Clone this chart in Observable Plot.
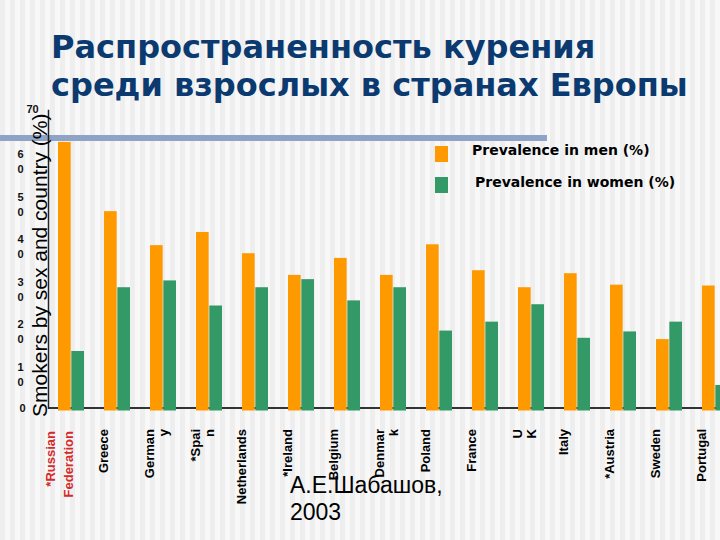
<!DOCTYPE html>
<html>
<head>
<meta charset="utf-8">
<script src="https://cdn.jsdelivr.net/npm/d3@7"></script>
<script src="https://cdn.jsdelivr.net/npm/@observablehq/plot@0.6"></script>
<style>
  html, body { margin: 0; padding: 0; overflow: hidden; }
  #slide {
    position: relative; width: 720px; height: 540px; overflow: hidden;
    background: repeating-linear-gradient(90deg, #eeeeee 0px, #eeeeee 5px, #f8f8f8 5px, #f8f8f8 10px);
    font-family: "Liberation Sans", Arial, sans-serif;
  }
  #title {
    position: absolute; left: 51px; top: 28px; margin: 0;
    font-family: "DejaVu Sans", Verdana, sans-serif; font-weight: bold;
    font-size: 32px; line-height: 38px; color: #0b3a70; white-space: nowrap;
  }
  #rule { position: absolute; left: 0; top: 135px; width: 547px; height: 6px; background: #8ea3c6; }
  #chart { position: absolute; left: 0; top: 0; }
  #chart svg { max-width: none !important; }
  .sw { position: absolute; width: 13px; height: 16px; }
  .lt { position: absolute; font-family: "DejaVu Sans", Verdana, sans-serif; font-weight: bold; font-size: 14px; line-height: 14px; color: #000; white-space: nowrap; }
  #caption { position: absolute; left: 290px; top: 472px; font-size: 23px; line-height: 27px; color: #000; }
</style>
</head>
<body>
<div id="slide">
  <div id="title">Распространенность курения<br>среди взрослых в странах Европы</div>
  <div id="rule"></div>
  <div id="chart"></div>
  <div class="sw" style="left:435px; top:146px; background:#ff9900"></div>
  <div class="lt" style="left:472px; top:143px">Prevalence in men (%)</div>
  <div class="sw" style="left:435px; top:177px; background:#339966"></div>
  <div class="lt" style="left:475px; top:175px">Prevalence in women (%)</div>
  <div id="caption">А.Е.Шабашов,<br>2003</div>
</div>
<script>
const countries = ["Russia","Greece","Germany","Spain","Netherlands","Ireland","Belgium","Denmark","Poland","France","UK","Italy","Austria","Sweden","Portugal"];
const labels = ["*Russian\nFederation","Greece","German\ny","*Spai\nn","Netherlands","*Ireland","Belgium","Denmar\nk","Poland","France","U\nK","Italy","*Austria","Sweden","Portugal"];
const men   = [62.5, 46.2, 38.2, 41.3, 36.3, 31.2, 35.2, 31.2, 38.4, 32.3, 28.3, 31.6, 28.9, 16.1, 28.7];
const women = [13.3, 28.3, 29.9, 24.0, 28.3, 30.2, 25.2, 28.3, 18.1, 20.2, 24.3, 16.4, 17.9, 20.2, 5.3];
const yTicks = [0, 10, 20, 30, 40, 50, 60, 70];
const yTitle = "Smokers by sex and country (%)";

const table = countries.map((c, i) => ({country: c, label: labels[i], men: men[i], women: women[i]}));
const half = 13.33;

const chart = Plot.plot({
  width: 739, height: 540,
  marginTop: 110, marginBottom: 132.5, marginLeft: 48, marginRight: 0,
  style: {background: "transparent", fontFamily: "'Liberation Sans', Arial, sans-serif", color: "#000", maxWidth: "none"},
  x: {domain: countries, paddingInner: 0.4256, paddingOuter: 0.1508, axis: null},
  y: {domain: [0, 70], axis: null},
  marks: [
    Plot.ruleY([0], {stroke: "#333", strokeWidth: 2}),
    Plot.frame({anchor: "left", stroke: "#222", strokeWidth: 1.5}),
    Plot.barY(table, {x: "country", y: "men", fill: "#ff9900", insetRight: half, insetBottom: -3}),
    Plot.barY(table, {x: "country", y: "women", fill: "#339966", insetLeft: half, insetBottom: -3}),
    Plot.text(yTicks.filter(d => d > 0 && d < 70), {
      y: d => d, text: d => String(d).split("").join("\n"), frameAnchor: "left",
      textAnchor: "middle", lineAnchor: "top", lineHeight: 1.36, dx: -28, dy: -5.5,
      fontWeight: "bold", fontSize: 11, fill: "#111"
    }),
    Plot.text(yTicks.filter(d => d === 0), {
      y: d => d, text: d => String(d), frameAnchor: "left",
      textAnchor: "middle", lineAnchor: "top", dx: -26, dy: -4,
      fontWeight: "bold", fontSize: 11, fill: "#111"
    }),
    Plot.text(yTicks.filter(d => d === 70), {
      y: d => d, text: d => String(d), frameAnchor: "left",
      textAnchor: "middle", lineAnchor: "top", dx: -16, dy: -5,
      fontWeight: "bold", fontSize: 11, fill: "#111"
    }),
    Plot.text([yTitle], {
      text: d => d, frameAnchor: "left", textAnchor: "middle", rotate: -90, dx: -8, dy: 6, fontSize: 21, fill: "#000"
    }),
    Plot.text(table.slice(1), {
      x: "country", text: "label", frameAnchor: "bottom", rotate: -90,
      textAnchor: "end", lineAnchor: "top", lineHeight: 1.1, dx: -19.5, dy: 21,
      fontWeight: "bold", fontSize: 13, fill: "#000"
    }),
    Plot.text(table.slice(0, 1), {
      x: "country", text: "label", frameAnchor: "bottom", rotate: -90,
      textAnchor: "end", lineAnchor: "top", lineHeight: 1.38, dx: -29.5, dy: 23,
      fontWeight: "bold", fontSize: 13, fill: "#d42a2a"
    })
  ]
});
chart.style.maxWidth = "none";
document.getElementById("chart").appendChild(chart);
</script>
</body>
</html>
